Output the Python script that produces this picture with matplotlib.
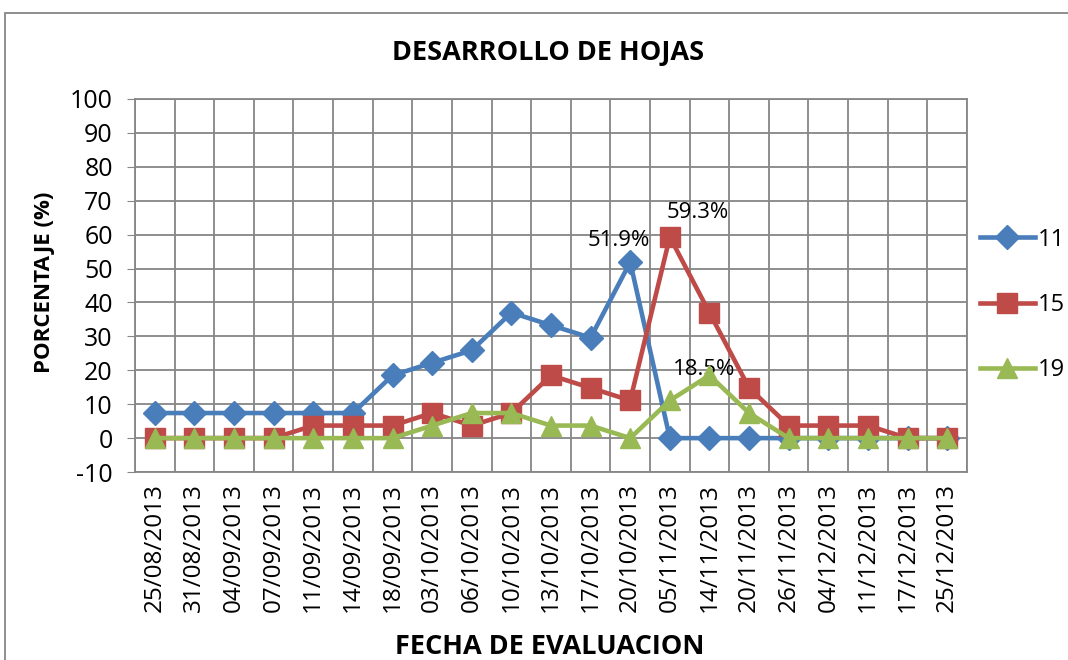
import matplotlib
matplotlib.use('Agg')
import matplotlib.pyplot as plt
from matplotlib.patches import Rectangle

# Fechas de evaluacion y porcentajes por serie
dates = ['25/08/2013', '31/08/2013', '04/09/2013', '07/09/2013', '11/09/2013',
         '14/09/2013', '18/09/2013', '03/10/2013', '06/10/2013', '10/10/2013',
         '13/10/2013', '17/10/2013', '20/10/2013', '05/11/2013', '14/11/2013',
         '20/11/2013', '26/11/2013', '04/12/2013', '11/12/2013', '17/12/2013',
         '25/12/2013']
s11 = [7.4, 7.4, 7.4, 7.4, 7.4, 7.4, 18.5, 22.2, 25.9, 37.0, 33.3, 29.6,
       51.9, 0, 0, 0, 0, 0, 0, 0, 0]
s15 = [0, 0, 0, 0, 3.7, 3.7, 3.7, 7.4, 3.7, 7.4, 18.5, 14.8, 11.1, 59.3,
       37.0, 14.8, 3.7, 3.7, 3.7, 0, 0]
s19 = [0, 0, 0, 0, 0, 0, 0, 3.7, 7.4, 7.4, 3.7, 3.7, 0, 11.1, 18.5, 7.4,
       0, 0, 0, 0, 0]
series_names = ['11', '15', '19']

plt.rcParams['font.family'] = ['Open Sans', 'DejaVu Sans']
plt.rcParams['axes.unicode_minus'] = False

fig = plt.figure(figsize=(10.68, 6.6), dpi=100)
ax = fig.add_axes([0.1264, 0.2848, 0.779, 0.5652])

x = list(range(len(dates)))
ax.plot(x, s11, color='#4A7EBB', lw=3.3, marker='D', ms=12, label=series_names[0], zorder=3)
ax.plot(x, s15, color='#BE4B48', lw=3.3, marker='s', ms=14, label=series_names[1], zorder=4)
ax.plot(x, s19, color='#98B954', lw=3.3, marker='^', ms=15, label=series_names[2], zorder=5)

# etiquetas de los picos
ax.annotate('51.9%', (12, 51.9), xytext=(-8, 8), textcoords='offset points',
            ha='center', va='bottom', fontsize=16)
ax.annotate('59.3%', (13, 59.3), xytext=(20, 10), textcoords='offset points',
            ha='center', va='bottom', fontsize=16)
ax.annotate('18.5%', (14, 18.5), xytext=(-4, -3), textcoords='offset points',
            ha='center', va='bottom', fontsize=16)

ax.set_xlim(-0.5, len(dates) - 0.5)
ax.set_ylim(-10, 100)
ax.set_yticks(range(-10, 101, 10))
ax.set_xticks(x)
ax.set_xticklabels(dates, rotation=90, fontsize=17.5)
ax.set_xticks([i - 0.5 for i in range(len(dates) + 1)], minor=True)
ax.tick_params(axis='y', labelsize=18, length=6, color='#868686', pad=10)
ax.tick_params(axis='x', which='major', length=0, pad=8)
ax.tick_params(axis='x', which='minor', length=0)
ax.grid(True, which='minor', axis='x', color='#868686', lw=1.3)
ax.grid(True, which='major', axis='y', color='#868686', lw=1.3)
for sp in ax.spines.values():
    sp.set_color('#868686')
    sp.set_linewidth(1.3)

fig.text(0.513, 0.92, 'DESARROLLO DE HOJAS', ha='center', va='center',
         fontsize=19.5, fontweight='bold')
fig.text(0.042, 0.572, 'PORCENTAJE (%)', ha='center', va='center',
         rotation=90, fontsize=16, fontweight='bold')
fig.text(0.515, 0.02, 'FECHA DE EVALUACION', ha='center', va='center',
         fontsize=19.5, fontweight='bold')

fig.legend(loc='center left', bbox_to_anchor=(0.898, 0.538), frameon=False,
           fontsize=17, handlelength=2.3, handletextpad=0.15, labelspacing=1.75)

fig.patches.append(Rectangle((5 / 1068, -0.1), 2, 1 - 13 / 660 + 0.1,
                             transform=fig.transFigure, fill=False,
                             edgecolor='#868686', lw=1.3))

fig.savefig('out.png', dpi=100)
